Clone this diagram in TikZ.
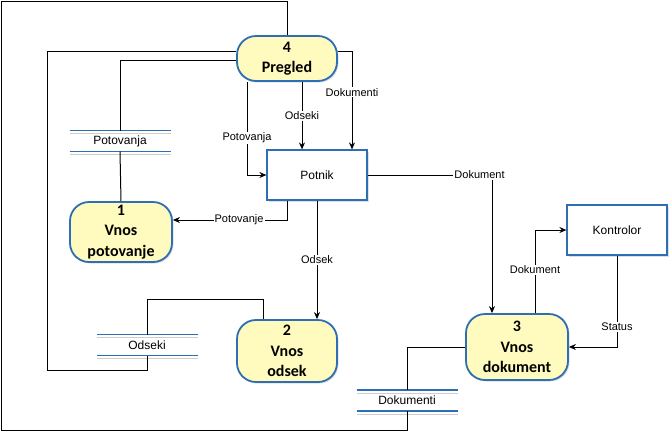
\documentclass[tikz,border=0pt]{standalone}
\usepackage{fontspec}
\setmainfont{Liberation Sans}
\newfontfamily\procfont{Carlito}
\usetikzlibrary{arrows.meta,shadows}
\tikzset{>={Stealth[length=7pt,width=6pt]}}
\definecolor{cProc}{RGB}{255,250,190}
\definecolor{cEdge}{RGB}{45,110,180}
\definecolor{cShade}{RGB}{205,205,205}

\begin{document}
\begin{tikzpicture}[x=1pt, y=-1pt, line width=1pt]

% Stiler.
\tikzset{
  proc/.style={rectangle, rounded corners=19pt, draw=cEdge, line width=1.8pt, fill=cProc,
    align=center, inner sep=0pt, minimum width=100pt,
    font=\procfont\bfseries\fontsize{16}{20.5}\selectfont,
    drop shadow={shadow xshift=1.5pt, shadow yshift=-1.5pt, opacity=0.25}},
  ent/.style={rectangle, draw=cEdge, line width=1.2pt, fill=white, minimum width=100pt,
    minimum height=50pt, font=\fontsize{12}{14}\selectfont,
    drop shadow={shadow xshift=1.5pt, shadow yshift=-1.5pt, opacity=0.25}},
  store/.style={rectangle, minimum width=100pt, minimum height=20pt, inner sep=0pt,
    font=\fontsize{12}{14}\selectfont},
  storeline/.style={draw=cEdge, line width=1.2pt},
  storeshade/.style={draw=cShade, line width=1pt},
  lbl/.style={fill=white, inner sep=1pt, font=\fontsize{11}{13}\selectfont}
}

\useasboundingbox (0,0) rectangle (669,432);

% Prosesser.
\node (pregled) [proc, minimum height=45pt] at (287,58.5) {4\\Pregled};
\node (vp)      [proc, minimum height=60pt, minimum width=102pt] at (121,232) {1\\Vnos\\potovanje};
\node (vo)      [proc, minimum height=62pt] at (287,351) {2\\Vnos\\odsek};
\node (vd)      [proc, minimum height=66pt, minimum width=102pt] at (517,347) {3\\Vnos\\dokument};

% Entiteter.
\node (potnik)    [ent] at (317,175) {Potnik};
\node (kontrolor) [ent] at (617,230) {Kontrolor};

% Lagre.
\node (potovanja) [store] at (120,141)   {Potovanja};
\node (odseki)    [store] at (147,345)   {Odseki};
\node (dokumenti) [store] at (407,400.5) {Dokumenti};
\foreach \s in {potovanja, odseki, dokumenti}{
  \draw[storeshade] ([yshift=-3pt]\s.north west) -- ([yshift=-3pt]\s.north east);
  \draw[storeshade] ([yshift=-3pt]\s.south west) -- ([yshift=-3pt]\s.south east);
  \draw[storeline] (\s.north west) -- (\s.north east);
  \draw[storeline] (\s.south west) -- (\s.south east);
}

% Hjelpepunkter.
\coordinate (tl) at (1,1);
\coordinate (bl) at (1,430);
\coordinate (ol) at (47,370);

% Linjer til lagrene.
\draw (pregled.north) |- (tl) -- (bl) -| (dokumenti.south);
\draw (dokumenti.north) |- (vd.west);
\draw ([yshift=7.5pt]pregled.west) -| (ol) -| (odseki.south);
\draw (odseki.north) -- ++(0,-35) -| ([xshift=-24pt]vo.north);
\draw ([yshift=-1.5pt]pregled.west) -| (potovanja.north);
\draw (potovanja.south) -- (vp.north);

% Dataflyt.
\draw[->] ([xshift=-40pt]pregled.south) |- node[lbl, pos=0.3] {Potovanja} (potnik.west);
\draw[->] ([xshift=15pt]pregled.south) -- node[lbl] {Odseki} ([xshift=15pt]pregled.south |- potnik.north);
\draw[->] ([yshift=7.5pt]pregled.east) -| node[lbl, pos=0.71] {Dokumenti} ([xshift=35pt]potnik.north);
\draw[->] ([xshift=-30pt]potnik.south) |- node[lbl, pos=0.71] {Potovanje} ([yshift=12pt]vp.east);
\draw[->] (potnik.south) -- node[lbl] {Odsek} (potnik.south |- vo.north);
\draw[->] (potnik.east) -| node[lbl, pos=0.45] {Dokument} ([xshift=-25pt]vd.north);
\draw[->] ([xshift=18pt]vd.north) |- node[lbl, pos=0.26] {Dokument} (kontrolor.west);
\draw[->] (kontrolor.south) |- node[lbl, pos=0.39] {Status} (vd.east);
\end{tikzpicture}
\end{document}
